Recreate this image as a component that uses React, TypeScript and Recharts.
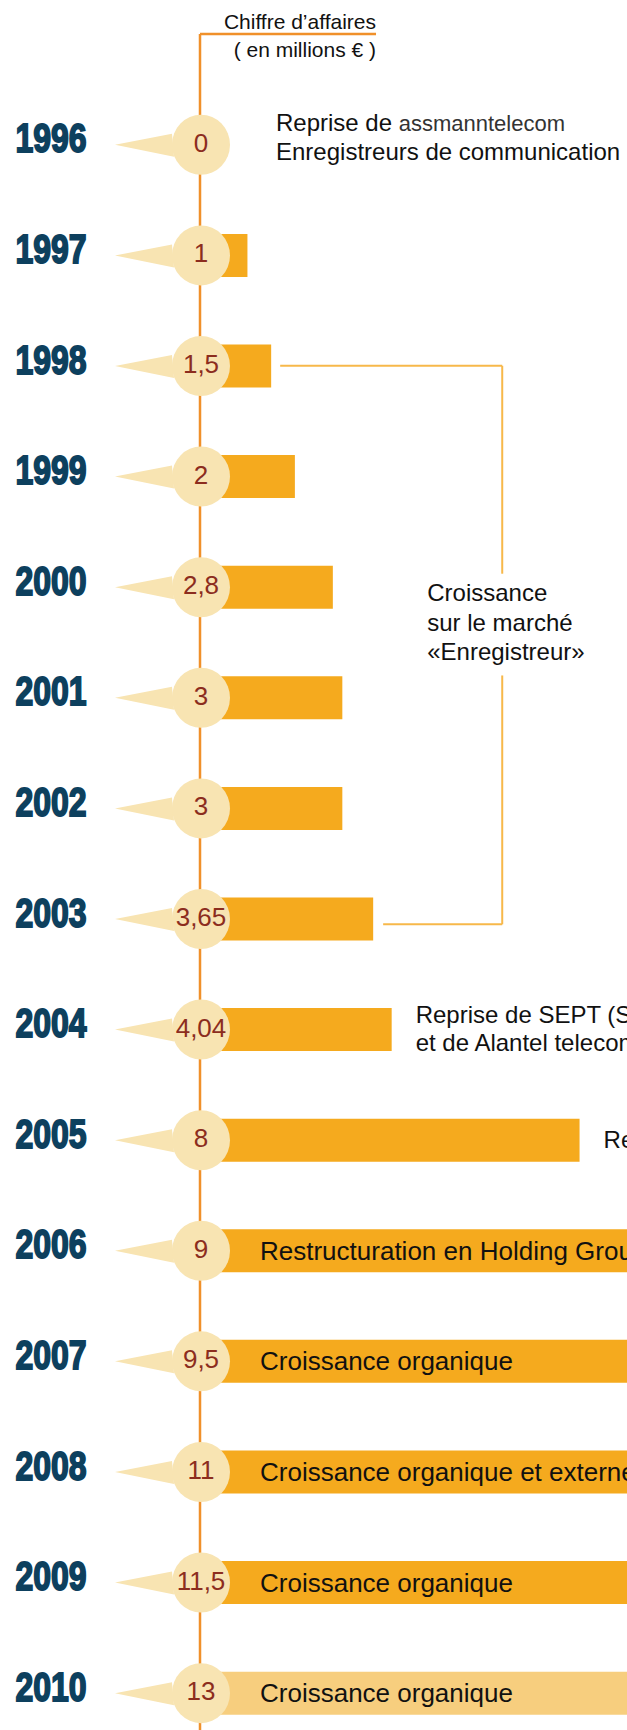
import React from 'react';
import { BarChart, Bar, XAxis, YAxis, ReferenceLine, LabelList, Cell } from 'recharts';

// Chiffre d'affaires (en millions €) par année
const YEARS = [1996, 1997, 1998, 1999, 2000, 2001, 2002, 2003, 2004, 2005, 2006, 2007, 2008, 2009, 2010];
const CA = [0, 1, 1.5, 2, 2.8, 3, 3, 3.65, 4.04, 8, 9, 9.5, 11, 11.5, 13];

// texte dans la barre
const BAR_NOTES: (string | null)[] = [
  null, null, null, null, null, null, null, null, null, null,
  'Restructuration en Holding Groupe',
  'Croissance organique',
  'Croissance organique et externe',
  'Croissance organique',
  'Croissance organique',
];

// texte à droite de la barre
const SIDE_NOTES: (string[] | null)[] = [
  ['Reprise de |assmanntelecom', 'Enregistreurs de communication'],
  null, null, null, null, null, null, null,
  ['Reprise de SEPT (Suisse)', 'et de Alantel telecom'],
  ['Reprise de ASC'],
  null, null, null, null, null,
];

const HEADER = ['Chiffre d’affaires', '( en millions € )'];
const BRACKET_TEXT = ['Croissance', 'sur le marché', '«Enregistreur»'];

const COLORS = {
  axis: '#F0902A',
  bar: '#F5AA1E',
  barLast: '#F7CE7E',
  bubble: '#F8E4B2',
  value: '#8C2D1E',
  year: '#0D405E',
  bracket: '#F7B84A',
  text: '#111111',
};

const FONT = '"Liberation Sans", Arial, sans-serif';
const Y_DOMAIN: [number, number] = [1995, 2010.335];
const X_DOMAIN: [number, number] = [0, 9];

const fmt = (v: number) => String(v).replace('.', ',');

const rows = YEARS.map((year, i) => ({ year, ca: CA[i], idx: i }));

function YearTick(props: any) {
  const { y, payload } = props;
  return (
    <text
      transform={`translate(51, ${y - 6}) scale(0.8, 1)`}
      textAnchor="middle"
      dominantBaseline="central"
      fontFamily={FONT}
      fontWeight={700}
      fontSize={40}
      fill={COLORS.year}
      stroke={COLORS.year}
      strokeWidth={1.8}
    >
      {payload.value}
    </text>
  );
}

function Bubble(props: any) {
  const vb = props.viewBox || props;
  const i = props.value ?? props.index;
  const x = vb.x;
  const cy = vb.y + vb.height / 2;
  const end = vb.x + (CA[i] === 0 ? 0 : vb.width);
  const side = SIDE_NOTES[i];
  const note = BAR_NOTES[i];
  const sx = Math.max(end + 24, 276);
  // le bloc de 1996 est un peu plus haut
  const shift = CA[i] === 0 ? -7 : 0;
  return (
    <g>
      <polygon
        points={`${x - 85},${cy} ${x - 28},${cy - 11} ${x - 26},${cy + 12}`}
        fill={COLORS.bubble}
      />
      <ellipse cx={x + 1} cy={cy} rx={29} ry={30} fill={COLORS.bubble} />
      <text
        x={x + 1}
        y={cy - 2}
        textAnchor="middle"
        dominantBaseline="central"
        fontFamily={FONT}
        fontSize={26}
        fill={COLORS.value}
      >
        {fmt(CA[i])}
      </text>
      {note && (
        <text x={x + 60} y={cy} dominantBaseline="central" fontFamily={FONT} fontSize={26} fill={COLORS.text}>
          {note}
        </text>
      )}
      {side &&
        side.map((line, k) => {
          const [a, b] = line.split('|');
          return (
            <text
              key={k}
              x={sx}
              y={cy - 1 + shift + (k - (side.length - 1) / 2) * 28.5}
              dominantBaseline="central"
              fontFamily={FONT}
              fontSize={24}
              fill={COLORS.text}
            >
              {a}
              {b && (
                <tspan fontSize={22} fill="#333333">
                  {b}
                </tspan>
              )}
            </text>
          );
        })}
    </g>
  );
}

function HeaderLabel(props: any) {
  const vb = props.viewBox;
  const right = vb.x + vb.width;
  return (
    <g fontFamily={FONT} fontSize={21} fill={COLORS.text} textAnchor="end">
      <text x={right} y={vb.y - 5}>{HEADER[0]}</text>
      <text x={right} y={vb.y + 23}>{HEADER[1]}</text>
    </g>
  );
}

function BracketLabel(props: any) {
  const vb = props.viewBox;
  const bottom = vb.y + vb.height;
  return (
    <g fontFamily={FONT} fontSize={24} fill={COLORS.text}>
      {BRACKET_TEXT.map((t, k) => (
        <text key={k} x={vb.x - 75} y={bottom + 19 + k * 29.5} dominantBaseline="central">
          {t}
        </text>
      ))}
    </g>
  );
}

export default function App() {
  return (
    <div style={{ width: 627, height: 1730, overflow: 'hidden', background: '#fff' }}>
      <style>{'body{margin:0}'}</style>
      <BarChart
        layout="vertical"
        width={627}
        height={1730}
        data={rows}
        margin={{ top: 34, right: 0, bottom: 0, left: 0 }}
      >
        <XAxis type="number" domain={X_DOMAIN} allowDataOverflow hide />
        <YAxis
          type="number"
          dataKey="year"
          domain={Y_DOMAIN}
          allowDataOverflow
          ticks={YEARS}
          interval={0}
          width={200}
          tickLine={false}
          axisLine={{ stroke: COLORS.axis, strokeWidth: 2.5 }}
          tick={YearTick}
        />
        <ReferenceLine
          segment={[{ x: 0, y: Y_DOMAIN[0] }, { x: 3.71, y: Y_DOMAIN[0] }]}
          stroke={COLORS.axis}
          strokeWidth={2.5}
          label={HeaderLabel}
        />
        <ReferenceLine
          segment={[{ x: 1.69, y: 1998 }, { x: 6.37, y: 1998 }]}
          stroke={COLORS.bracket}
          strokeWidth={2}
        />
        <ReferenceLine
          segment={[{ x: 6.37, y: 1998 }, { x: 6.37, y: 1999.88 }]}
          stroke={COLORS.bracket}
          strokeWidth={2}
          label={BracketLabel}
        />
        <ReferenceLine
          segment={[{ x: 6.37, y: 2000.8 }, { x: 6.37, y: 2003.05 }]}
          stroke={COLORS.bracket}
          strokeWidth={2}
        />
        <ReferenceLine
          segment={[{ x: 3.86, y: 2003.05 }, { x: 6.37, y: 2003.05 }]}
          stroke={COLORS.bracket}
          strokeWidth={2}
        />
        <Bar dataKey="ca" barSize={43} minPointSize={1} isAnimationActive={false}>
          {rows.map((r, i) => (
            <Cell key={r.year} fill={i === rows.length - 1 ? COLORS.barLast : COLORS.bar} />
          ))}
          <LabelList dataKey="idx" content={Bubble} />
        </Bar>
      </BarChart>
    </div>
  );
}
